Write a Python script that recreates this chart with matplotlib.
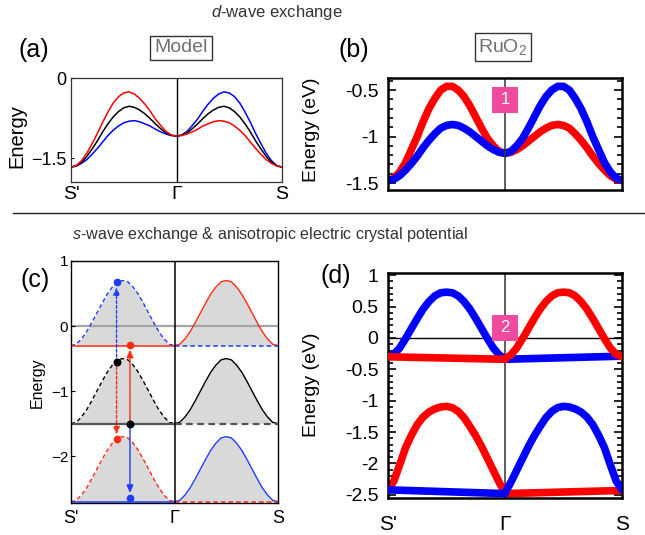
import numpy as np
import matplotlib
matplotlib.use('Agg')
import matplotlib.pyplot as plt
from matplotlib.lines import Line2D
from matplotlib.patches import Rectangle
from matplotlib.ticker import MultipleLocator

plt.rcParams['font.family'] = ['Liberation Sans', 'DejaVu Sans']
plt.rcParams['mathtext.fontset'] = 'custom'
plt.rcParams['mathtext.rm'] = 'Liberation Sans'
plt.rcParams['mathtext.it'] = 'Liberation Sans:italic'

# k path: S' (0) -> Gamma (1) -> S (2); values below are for the S'->Gamma half
k = np.linspace(0, 1, 21)
k_ticks = [0, 1, 2]
k_labels = ["S'", "Γ", "S"]

# (a) model, d-wave exchange
a_up = [-1.67, -1.64, -1.55, -1.41, -1.23, -1.04, -0.83, -0.64, -0.47, -0.35, -0.28,
        -0.26, -0.30, -0.38, -0.49, -0.62, -0.77, -0.89, -1.00, -1.07, -1.09]
a_mid = [-1.67, -1.65, -1.58, -1.47, -1.33, -1.18, -1.01, -0.86, -0.73, -0.63, -0.56,
         -0.53, -0.55, -0.60, -0.67, -0.76, -0.86, -0.95, -1.03, -1.07, -1.09]
a_low = [-1.67, -1.65, -1.60, -1.53, -1.43, -1.32, -1.20, -1.08, -0.98, -0.90, -0.84,
         -0.81, -0.80, -0.82, -0.86, -0.90, -0.96, -1.01, -1.05, -1.08, -1.09]

# (b) RuO2
b_up = [-1.47, -1.45, -1.38, -1.28, -1.14, -1.00, -0.84, -0.70, -0.59, -0.50, -0.46,
        -0.46, -0.50, -0.57, -0.67, -0.79, -0.91, -1.02, -1.10, -1.16, -1.18]
b_low = [-1.47, -1.46, -1.42, -1.36, -1.29, -1.21, -1.12, -1.04, -0.97, -0.91, -0.88,
         -0.87, -0.88, -0.91, -0.95, -1.00, -1.05, -1.10, -1.14, -1.17, -1.18]

# (c) model, s-wave exchange + anisotropic potential
c_top = [-0.30, -0.28, -0.20, -0.09, 0.05, 0.20, 0.35, 0.49, 0.60, 0.68, 0.70,
         0.68, 0.60, 0.49, 0.35, 0.20, 0.05, -0.09, -0.20, -0.28, -0.30]
c_mid = [-1.50, -1.48, -1.40, -1.29, -1.15, -1.00, -0.85, -0.71, -0.60, -0.52, -0.50,
         -0.52, -0.60, -0.71, -0.85, -1.00, -1.15, -1.29, -1.40, -1.48, -1.50]
c_bot = [-2.70, -2.68, -2.60, -2.49, -2.35, -2.20, -2.05, -1.91, -1.80, -1.72, -1.70,
         -1.72, -1.80, -1.91, -2.05, -2.20, -2.35, -2.49, -2.60, -2.68, -2.70]
c_base = [-0.3, -1.5, -2.7]
arrow_k = [0.44, 0.44, 0.57, 0.57]
arrow_from = [-0.55, -0.55, -1.50, -1.50]
arrow_to = [0.67, -1.74, -0.29, -2.64]
arrow_col = ['b', 'r', 'r', 'b']
arrow_dotted = [True, True, False, False]

# (d) RuO2
d_up = [-0.30, -0.26, -0.16, -0.01, 0.15, 0.31, 0.46, 0.58, 0.67, 0.72, 0.73,
        0.72, 0.67, 0.58, 0.46, 0.31, 0.15, -0.01, -0.16, -0.27, -0.33]
d_low = [-2.42, -2.28, -2.02, -1.75, -1.55, -1.38, -1.26, -1.18, -1.13, -1.10, -1.09,
         -1.11, -1.17, -1.27, -1.41, -1.56, -1.73, -1.92, -2.11, -2.30, -2.47]
d_flat_red_up = [-0.30, -0.34]      # S' -> Gamma
d_flat_blue_up = [-0.34, -0.29]     # Gamma -> S
d_flat_blue_low = [-2.42, -2.48]    # S' -> Gamma
d_flat_red_low = [-2.48, -2.43]     # Gamma -> S

RED = '#ff0000'
BLUE = '#0000ff'
C_RED = '#ff2a12'
C_BLUE = '#1f3cff'
PINK = '#ef4a9e'
GRAY_FILL = '#d9d9d9'

W, H = 645, 535
fig = plt.figure(figsize=(W / 100, H / 100), dpi=100)


def px_axes(x0, y0, x1, y1):
    return fig.add_axes([x0 / W, 1 - y1 / H, (x1 - x0) / W, (y1 - y0) / H])


# ---------- (a)
ax = px_axes(71, 78, 282, 182)
ax.plot(k, a_low, color=BLUE, lw=1.1)
ax.plot(2 - k, a_up, color=BLUE, lw=1.1)
ax.plot(k, a_mid, color='k', lw=1.1)
ax.plot(2 - k, a_mid, color='k', lw=1.1)
ax.plot(k, a_up, color=RED, lw=1.1)
ax.plot(2 - k, a_low, color=RED, lw=1.1)
ax.axvline(1, color='k', lw=1)
ax.set_xlim(0, 2)
ax.set_ylim(-1.95, 0.0)
ax.set_xticks(k_ticks, k_labels)
ax.set_yticks([0, -1.5], ['0', '\u22121.5'])
ax.tick_params(axis='x', length=0, labelsize=14, pad=3)
ax.tick_params(axis='y', direction='in', length=2, labelsize=13, pad=3)
for s in ax.spines.values():
    s.set_linewidth(0.9)
    s.set_color('#333333')

# ---------- (b)
ax = px_axes(388, 78, 622, 190)
ax.plot(k, b_up, color=RED, lw=5.5, solid_capstyle='round')
ax.plot(2 - k, b_low, color=RED, lw=5.5, solid_capstyle='round')
ax.plot(k, b_low, color=BLUE, lw=5.5, solid_capstyle='round')
ax.plot(2 - k, b_up, color=BLUE, lw=5.5, solid_capstyle='round')
ax.axvline(1, color='#333333', lw=1.1)
ax.set_xlim(0, 2)
ax.set_ylim(-1.575, -0.37)
ax.set_xticks([])
ax.set_yticks([-0.5, -1, -1.5], ['-0.5', '-1', '-1.5'])
ax.yaxis.set_minor_locator(MultipleLocator(0.1))
ax.tick_params(axis='y', which='both', direction='in', left=True, right=True,
               labelsize=14, pad=7, width=1.2)
ax.tick_params(axis='y', which='major', length=6)
ax.tick_params(axis='y', which='minor', length=3.5)
for s in ax.spines.values():
    s.set_linewidth(1.8)
ax.add_patch(Rectangle((0.5 - 0.0535, 0.804 - 0.116), 0.107, 0.232,
                       transform=ax.transAxes, fc=PINK, ec='none', zorder=5))
ax.text(0.5, 0.804, '1', transform=ax.transAxes, ha='center', va='center',
        color='white', fontsize=12, zorder=6)

# ---------- (c)
ax = px_axes(71, 261, 278, 503)
ax.axhline(0, color='#a6a6a6', lw=1.6, zorder=1)
bands = [c_top, c_mid, c_bot]
left_col = [C_BLUE, 'k', C_RED]
right_col = [C_RED, 'k', C_BLUE]
base_left = [C_RED, '#555555', C_BLUE]
base_right = [C_BLUE, '#555555', C_RED]
for band, base, lc, rc, bl, br in zip(bands, c_base, left_col, right_col, base_left, base_right):
    ax.fill_between(k, band, base, color=GRAY_FILL, lw=0, zorder=0)
    ax.fill_between(1 + k, band, base, color=GRAY_FILL, lw=0, zorder=0)
    ax.plot(k, band, color=lc, lw=1, dashes=(3, 2), zorder=2)
    ax.plot(1 + k, band, color=rc, lw=1, zorder=2)
    blw = 1.6 if bl == '#555555' else 1.1
    ax.plot([0, 1], [base, base], color=bl, lw=blw, zorder=2)
    ax.plot([1, 2], [base, base], color=br, lw=blw, dashes=(3, 2), zorder=2)
ax.axvline(1, color='k', lw=1.1, zorder=3)
for kk, e0, e1, col, dotted in zip(arrow_k, arrow_from, arrow_to, arrow_col, arrow_dotted):
    c = C_RED if col == 'r' else C_BLUE
    ls = (0, (2, 1.5)) if dotted else '-'
    ax.annotate('', xy=(kk, e1), xytext=(kk, e0),
                arrowprops=dict(arrowstyle='-|>,head_length=0.45,head_width=0.2',
                                color=c, lw=1.0, linestyle=ls, shrinkA=0, shrinkB=3.5),
                zorder=4)
    ax.plot([kk], [e1], 'o', color=c, ms=4.5, zorder=5)
    ax.plot([kk], [e0], 'o', color='k', ms=4.5, zorder=5)
ax.set_xlim(0, 2)
ax.set_ylim(-2.72, 1.0)
ax.set_xticks(k_ticks, k_labels)
ax.set_yticks([1, 0, -1, -2], ['1', '0', '\u22121', '\u22122'])
ax.tick_params(axis='x', length=0, labelsize=13, pad=5)
ax.tick_params(axis='y', direction='in', length=3, labelsize=11, pad=2)
for s in ax.spines.values():
    s.set_linewidth(1.0)

# ---------- (d)
ax = px_axes(388, 273, 622, 498)
ax.axhline(0, color='k', lw=1, zorder=1)
ax.axvline(1, color='#333333', lw=1.1, zorder=1)
ax.plot(k, d_up, color=BLUE, lw=5.5, solid_capstyle='round', zorder=2)
ax.plot([1, 2], d_flat_blue_up, color=BLUE, lw=5.5, solid_capstyle='round', zorder=2)
ax.plot(2 - k, d_up, color=RED, lw=5.5, solid_capstyle='round', zorder=3)
ax.plot([0, 1], d_flat_red_up, color=RED, lw=5.5, solid_capstyle='round', zorder=3)
ax.plot(k, d_low, color=RED, lw=5.5, solid_capstyle='round', zorder=2)
ax.plot([1, 2], d_flat_red_low, color=RED, lw=5.5, solid_capstyle='round', zorder=2)
ax.plot(2 - k, d_low, color=BLUE, lw=5.5, solid_capstyle='round', zorder=3)
ax.plot([0, 1], d_flat_blue_low, color=BLUE, lw=5.5, solid_capstyle='round', zorder=3)
ax.set_xlim(0, 2)
ax.set_ylim(-2.55, 1.035)
ax.set_xticks(k_ticks, k_labels)
ax.set_yticks([1, 0.5, 0, -0.5, -1, -1.5, -2, -2.5],
              ['1', '0.5', '0', '-0.5', '-1', '-1.5', '-2', '-2.5'])
ax.yaxis.set_minor_locator(MultipleLocator(0.1))
ax.tick_params(axis='x', length=0, labelsize=15, pad=12)
ax.tick_params(axis='y', which='both', direction='in', left=True, right=True,
               labelsize=14, pad=7, width=1.2)
ax.tick_params(axis='y', which='major', length=6)
ax.tick_params(axis='y', which='minor', length=3.5)
for s in ax.spines.values():
    s.set_linewidth(1.8)
ax.add_patch(Rectangle((0.5 - 0.0535, 0.756 - 0.058), 0.107, 0.116,
                       transform=ax.transAxes, fc=PINK, ec='none', zorder=5))
ax.text(0.5, 0.756, '2', transform=ax.transAxes, ha='center', va='center',
        color='white', fontsize=12, zorder=6)

# ---------- figure texts
fig.text(277 / W, 1 - 12 / H, r'$\mathit{d}$-wave exchange', ha='center', va='center',
         fontsize=12, color='#333333')
fig.text(270 / W, 1 - 235 / H, r'$\mathit{s}$-wave exchange & anisotropic electric crystal potential',
         ha='center', va='center', fontsize=11.6, color='#333333')
fig.add_artist(Line2D([13 / W, 1.0], [1 - 213 / H, 1 - 213 / H], color='#222222', lw=1))

box = dict(boxstyle='square,pad=0.2', fc='white', ec='#333333', lw=1)
fig.text(181 / W, 1 - 48 / H, 'Model', ha='center', va='center', fontsize=14,
         color='#707070', bbox=box)
fig.text(503 / W, 1 - 47 / H, r'RuO$_2$', ha='center', va='center', fontsize=14,
         color='#707070', bbox=box)

for lab, x, y in [('(a)', 18, 50), ('(b)', 338, 50), ('(c)', 20, 280), ('(d)', 321, 276)]:
    fig.text(x / W, 1 - y / H, lab, ha='left', va='center', fontsize=18)

fig.text(17 / W, 1 - 136 / H, 'Energy', rotation=90, ha='center', va='center', fontsize=14.5)
fig.text(312 / W, 1 - 130 / H, 'Energy (eV)', rotation=90, ha='center', va='center', fontsize=14)
fig.text(37 / W, 1 - 383 / H, 'Energy', rotation=90, ha='center', va='center', fontsize=11.5)
fig.text(312 / W, 1 - 385 / H, 'Energy (eV)', rotation=90, ha='center', va='center', fontsize=14)

fig.savefig('out.png', dpi=100)
